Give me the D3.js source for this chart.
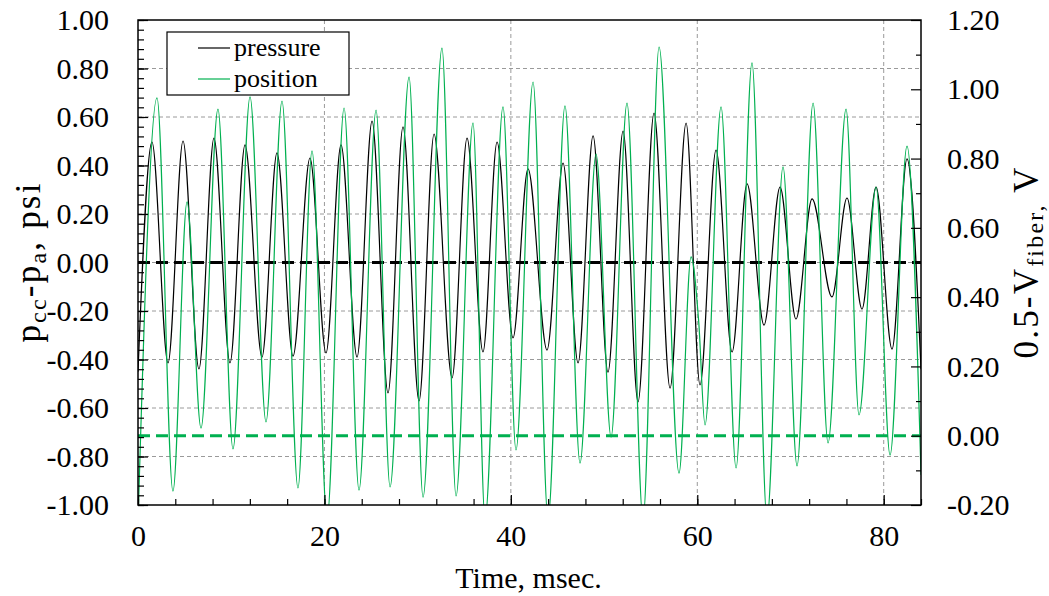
<!DOCTYPE html>
<html>
<head>
<meta charset="utf-8">
<script src="https://cdn.jsdelivr.net/npm/d3@7"></script>
<style>
  body { margin: 0; background: #fff; }
  svg { display: block; }
  .grid line { stroke: #9a9a9a; stroke-width: 1; stroke-dasharray: 4,3; }
  .axis path { display: none; }
  .axis line { stroke: #000; stroke-width: 1.2; }
</style>
</head>
<body>
<svg id="chart" width="1049" height="596"></svg>
<script>
// pressure trace (time in msec, psi)
var pressureTime = [0.00, 1.50, 3.22, 4.83, 6.54, 8.15, 9.87, 11.48, 13.30, 14.91, 16.63, 18.45,
  20.17, 21.78, 23.50, 25.11, 26.82, 28.43, 30.15, 31.76, 33.69, 35.30, 37.01, 38.52, 40.23,
  41.84, 43.88, 45.60, 47.21, 48.82, 50.42, 52.04, 53.64, 55.36, 57.08, 58.80, 60.29, 62.01,
  63.73, 65.34, 67.16, 68.88, 70.59, 72.31, 74.45, 76.06, 77.67, 79.18, 80.89, 82.50, 84.00];
var pressureValue = [-0.45, 0.497, -0.414, 0.501, -0.439, 0.513, -0.414, 0.485, -0.390, 0.452, -0.386, 0.431,
  -0.373, 0.485, -0.390, 0.583, -0.538, 0.559, -0.571, 0.530, -0.476, 0.513, -0.369, 0.497, -0.311,
  0.386, -0.361, 0.410, -0.414, 0.522, -0.452, 0.542, -0.575, 0.616, -0.518, 0.575, -0.505, 0.464,
  -0.369, 0.324, -0.258, 0.311, -0.233, 0.262, -0.142, 0.266, -0.192, 0.311, -0.357, 0.427, -0.44];

// fiber position trace (time in msec, volts on right axis)
var positionTime = [0.00, 2.04, 3.75, 5.26, 6.76, 8.58, 10.19, 12.02, 13.73, 15.45, 17.16, 18.67,
  20.28, 22.11, 23.71, 25.54, 27.04, 29.08, 30.58, 32.61, 34.12, 35.94, 37.23, 39.16, 40.55,
  42.38, 43.99, 45.81, 47.42, 49.14, 50.75, 52.46, 54.18, 55.90, 58.04, 59.33, 60.15, 60.83,
  62.55, 64.16, 65.87, 67.48, 69.20, 70.70, 72.42, 74.03, 75.96, 77.35, 79.18, 80.68, 82.50, 84.00];
var positionValue = [-0.25, 0.975, -0.160, 0.675, 0.022, 0.943, -0.038, 0.978, 0.040, 0.966, -0.151, 0.822,
  -0.24, 0.946, -0.157, 0.940, -0.148, 1.035, -0.177, 1.119, -0.174, 0.903, -0.24, 0.949, -0.041,
  1.021, -0.24, 0.952, -0.079, 0.813, -0.004, 0.960, -0.24, 1.122, -0.108, 0.516, 0.33, 0.031,
  0.949, -0.093, 1.076, -0.24, 0.776, -0.087, 0.960, -0.021, 0.943, 0.060, 0.718, -0.056, 0.836, -0.113];

var xTicks = [0, 20, 40, 60, 80];
var leftTicks = [-1, -0.8, -0.6, -0.4, -0.2, 0, 0.2, 0.4, 0.6, 0.8, 1];
var rightTicks = [-0.2, 0, 0.2, 0.4, 0.6, 0.8, 1.0, 1.2];
var legendNames = ["pressure", "position"];
var colors = ["#000000", "#00b050"];

var serif = "'Liberation Serif', 'Times New Roman', serif";
var plotL = 138, plotR = 921, plotT = 20, plotB = 505;
var svg = d3.select("#chart").attr("font-family", serif);

var x = d3.scaleLinear().domain([0, 84]).range([plotL, plotR]);
var yL = d3.scaleLinear().domain([-1, 1]).range([plotB, plotT]);
var yR = d3.scaleLinear().domain([-0.2, 1.2]).range([plotB, plotT]);

// two decimals, plain hyphen for negatives like the original
function fmt(d) { return d3.format(".2f")(d).replace("\u2212", "-"); }

// gridlines
svg.append("g").attr("class", "grid")
  .selectAll("line").data(leftTicks.slice(1, -1)).enter().append("line")
  .attr("x1", plotL).attr("x2", plotR)
  .attr("y1", function(d) { return yL(d); }).attr("y2", function(d) { return yL(d); });
svg.append("g").attr("class", "grid")
  .selectAll("line").data(xTicks.slice(1)).enter().append("line")
  .attr("y1", plotT).attr("y2", plotB)
  .attr("x1", function(d) { return x(d); }).attr("x2", function(d) { return x(d); });

// reference lines (zero of each axis)
svg.append("line")
  .attr("x1", plotL).attr("x2", plotR).attr("y1", yL(0)).attr("y2", yL(0))
  .attr("stroke", "#000").attr("stroke-width", 3).attr("stroke-dasharray", "12,6");
svg.append("line")
  .attr("x1", plotL).attr("x2", plotR).attr("y1", yR(0)).attr("y2", yR(0))
  .attr("stroke", "#00b050").attr("stroke-width", 3).attr("stroke-dasharray", "12,6");

svg.append("clipPath").attr("id", "plot")
  .append("rect").attr("x", plotL).attr("y", plotT)
  .attr("width", plotR - plotL).attr("height", plotB - plotT);

var pressure = pressureTime.map(function(t, i) { return [t, pressureValue[i]]; });
var position = positionTime.map(function(t, i) { return [t, positionValue[i]]; });

var linePressure = d3.line()
  .x(function(d) { return x(d[0]); })
  .y(function(d) { return yL(d[1]); })
  .curve(d3.curveMonotoneX);
var linePosition = d3.line()
  .x(function(d) { return x(d[0]); })
  .y(function(d) { return yR(d[1]); })
  .curve(d3.curveMonotoneX);

svg.append("path").datum(pressure)
  .attr("clip-path", "url(#plot)")
  .attr("fill", "none").attr("stroke", colors[0]).attr("stroke-width", 1.2)
  .attr("d", linePressure);
svg.append("path").datum(position)
  .attr("clip-path", "url(#plot)")
  .attr("fill", "none").attr("stroke", colors[1]).attr("stroke-width", 1.2)
  .attr("d", linePosition);

function styleAxis(g) {
  g.attr("font-family", serif).attr("font-size", 30);
  g.selectAll("text").attr("fill", "#000");
}

// ticks (inward) and labels
svg.append("g").attr("class", "axis")
  .attr("transform", "translate(" + plotL + ",0)")
  .call(d3.axisRight(yL).tickValues(d3.range(-1, 1.001, 0.04)).tickSize(6).tickFormat(""));
svg.append("g").attr("class", "axis")
  .attr("transform", "translate(" + plotL + ",0)")
  .call(d3.axisRight(yL).tickValues(leftTicks).tickSize(10).tickFormat(""));
svg.append("g").attr("class", "axis")
  .attr("transform", "translate(" + plotL + ",0)")
  .call(d3.axisLeft(yL).tickValues(leftTicks).tickSize(0).tickPadding(29).tickFormat(fmt))
  .call(styleAxis);

svg.append("g").attr("class", "axis")
  .attr("transform", "translate(" + plotR + ",0)")
  .call(d3.axisLeft(yR).tickValues(d3.range(-0.1, 1.2, 0.2)).tickSize(5).tickFormat(""));
svg.append("g").attr("class", "axis")
  .attr("transform", "translate(" + plotR + ",0)")
  .call(d3.axisLeft(yR).tickValues(rightTicks).tickSize(10).tickFormat(""));
svg.append("g").attr("class", "axis")
  .attr("transform", "translate(" + plotR + ",0)")
  .call(d3.axisRight(yR).tickValues(rightTicks).tickSize(0).tickPadding(26).tickFormat(fmt))
  .call(styleAxis);

svg.append("g").attr("class", "axis")
  .attr("transform", "translate(0," + plotB + ")")
  .call(d3.axisTop(x).tickValues(d3.range(0, 85, 4)).tickSize(6).tickFormat(""));
svg.append("g").attr("class", "axis")
  .attr("transform", "translate(0," + plotB + ")")
  .call(d3.axisTop(x).tickValues(xTicks).tickSize(10).tickFormat(""));
svg.append("g").attr("class", "axis")
  .attr("transform", "translate(0," + plotB + ")")
  .call(d3.axisBottom(x).tickValues(xTicks).tickSize(0).tickPadding(20))
  .call(styleAxis);

// frame
svg.append("rect")
  .attr("x", plotL).attr("y", plotT).attr("width", plotR - plotL).attr("height", plotB - plotT)
  .attr("fill", "none").attr("stroke", "#000").attr("stroke-width", 1.5);

// axis titles
svg.append("text")
  .attr("x", (plotL + plotR) / 2 - 1).attr("y", 588)
  .attr("text-anchor", "middle").attr("font-size", 30)
  .text("Time, msec.");

var tl = svg.append("text")
  .attr("transform", "translate(40,262) rotate(-90)")
  .attr("text-anchor", "middle").attr("font-size", 35)
  .attr("letter-spacing", 2.2);
tl.append("tspan").text("p");
tl.append("tspan").attr("font-size", 24).attr("dy", 6).text("cc");
tl.append("tspan").attr("dy", -6).text("-p");
tl.append("tspan").attr("font-size", 24).attr("dy", 6).text("a");
tl.append("tspan").attr("dy", -6).text(", psi");

var tr = svg.append("text")
  .attr("transform", "translate(1038,262) rotate(-90)")
  .attr("text-anchor", "middle").attr("font-size", 35)
  .attr("letter-spacing", 2.2);
tr.append("tspan").text("0.5-V");
tr.append("tspan").attr("font-size", 24).attr("dy", 5).text("fiber,");
tr.append("tspan").attr("dy", -5).text(" V");

// legend
var legend = svg.append("g");
legend.append("rect")
  .attr("x", 167).attr("y", 32).attr("width", 182).attr("height", 63)
  .attr("fill", "#fff").attr("stroke", "#000").attr("stroke-width", 1.2);
legendNames.forEach(function(name, i) {
  var ly = 48 + i * 31;
  legend.append("line")
    .attr("x1", 198).attr("x2", 230).attr("y1", ly).attr("y2", ly)
    .attr("stroke", colors[i]).attr("stroke-width", 1.2);
  legend.append("text")
    .attr("x", 234).attr("y", ly + 8)
    .attr("font-size", 26)
    .text(name);
});
</script>
</body>
</html>
